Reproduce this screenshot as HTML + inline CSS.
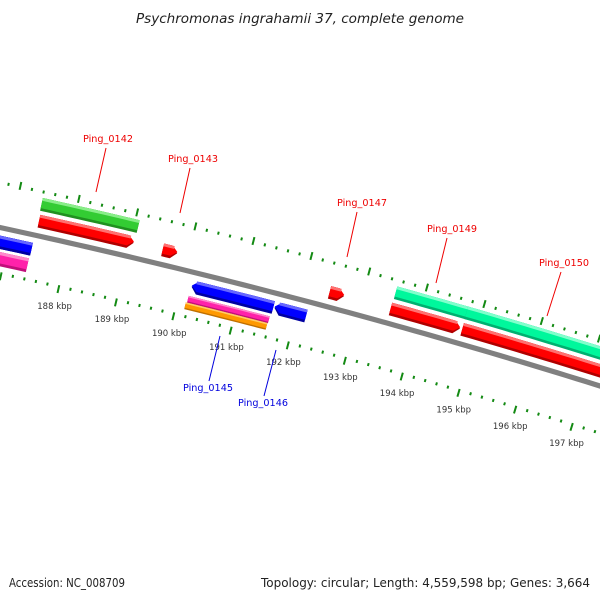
<!DOCTYPE html>
<html><head><meta charset="utf-8">
<style>
html,body{margin:0;padding:0;background:#fff;}
svg{display:block;font-family:"DejaVu Sans","Liberation Sans",sans-serif;}
</style></head>
<body>
<svg id="map" width="600" height="600" viewBox="0 0 600 600">
  <rect width="600" height="600" fill="#fff"/>
  <text x="300" y="23" text-anchor="middle" font-size="13" font-style="italic" fill="#222" textLength="328" lengthAdjust="spacingAndGlyphs">Psychromonas ingrahamii 37, complete genome</text>
  <g id="ticks"></g>
  <g id="backbone"></g>
  <g id="features"></g>
  <g id="labels"></g>
  <text x="9" y="587" font-size="12" fill="#222" textLength="116" lengthAdjust="spacingAndGlyphs">Accession: NC_008709</text>
  <text x="590" y="587" text-anchor="end" font-size="12" fill="#222" textLength="329" lengthAdjust="spacingAndGlyphs">Topology: circular; Length: 4,559,598 bp; Genes: 3,664</text>
</svg>
<script>
// ---- data (kbp) ----
const featStart = [185.0, 187.41, 187.43, 185.0, 185.0, 189.56, 190.18, 190.17, 190.15, 191.62, 192.45, 193.52, 193.51, 194.75, 194.76];
const featEnd   = [187.41,189.07, 189.06, 187.39, 187.40, 189.81, 191.60, 191.58, 191.57, 192.17, 192.70, 194.77, 194.72, 199.5, 199.5];
const featStrand= [-1, 1, 1, -1, -1, 1, -1, -1, -1, -1, 1, 1, 1, 1, 1];
const featSlot  = ['in1','out2','out1','in1','in2','out1','in1','in2a','in2b','in1','out1','out2','out1','out2','out1'];
const featType  = ['cds','gene','cds','cds','other','cds','cds','other','rna','cds','cds','gene2','cds','gene2','cds'];
const featArrow = [false,false,true,false,false,true,true,false,false,true,true,false,true,false,false];
const tickLabels = [188,189,190,191,192,193,194,195,196,197];
const tickMin = 185.0, tickMax = 199.4, tickStep = 0.2;

const geneLabels = ['Ping_0142','Ping_0143','Ping_0147','Ping_0149','Ping_0150','Ping_0145','Ping_0146'];
const geneLabelColor = ['#e00','#e00','#e00','#e00','#e00','#00d','#00d'];
const geneLabelPos = [[108,142],[193,162],[362,206],[452,232],[564,266],[208,391],[263,406]];
const geneLeader = [[96,192,106,148],[180,213,190,168],[347,257,357,212],[436,283,447,238],[547,316,561,272],[209,381,220,336],[264,396,276,350]];

// ---- geometry: circle through backbone points ----
const NS='http://www.w3.org/2000/svg';
const P1=[0,227.5],P2=[300,299.5],P3=[600,386];
function circ(a,b,c){const d=2*(a[0]*(b[1]-c[1])+b[0]*(c[1]-a[1])+c[0]*(a[1]-b[1]));
 const A=a[0]*a[0]+a[1]*a[1],B=b[0]*b[0]+b[1]*b[1],Cc=c[0]*c[0]+c[1]*c[1];
 const ux=(A*(b[1]-c[1])+B*(c[1]-a[1])+Cc*(a[1]-b[1]))/d, uy=(A*(c[0]-b[0])+B*(a[0]-c[0])+Cc*(b[0]-a[0]))/d;
 return [ux,uy,Math.hypot(a[0]-ux,a[1]-uy)];}
const [Cx,Cy,R0]=circ(P1,P2,P3);
const phi0=Math.atan2(P1[1]-Cy,P1[0]-Cx);
function sOf(x,y){return (Math.atan2(y-Cy,x-Cx)-phi0)*R0;}
function hOf(x,y){return Math.hypot(x-Cx,y-Cy)-R0;}
const s188=sOf(55,304), s197=sOf(566,445), pxK=(s197-s188)/9;
const labelH=(hOf(55,304)+hOf(566,445))/2;
function pt(k,h){const phi=phi0+(s188+(k-188)*pxK)/R0, r=R0+h; return [Cx+r*Math.cos(phi),Cy+r*Math.sin(phi)];}
function kOffset(px){return px/pxK;}
function el(tag,attrs,parent){const e=document.createElementNS(NS,tag);for(const a in attrs)e.setAttribute(a,attrs[a]);parent.appendChild(e);return e;}
function arcPts(k1,k2,h){const n=Math.max(2,Math.ceil(Math.abs(k2-k1)*6));const out=[];for(let i=0;i<=n;i++)out.push(pt(k1+(k2-k1)*i/n,h));return out;}
function polyStr(p){return p.map(q=>q[0].toFixed(2)+','+q[1].toFixed(2)).join(' ');}

const slotH={out1:[8,21],out2:[25,38],in1:[-21,-8],in2:[-38,-24],in2a:[-31,-24],in2b:[-38,-31]};
const colors={cds:['#ff0000','#ff7070','#b00000'],gene:['#33cc33','#88ee88','#209020'],gene2:['#00f79c','#80ffcc','#00b070'],
  other:['#ff22aa','#ff88cc','#c0107a'],rna:['#ff9900','#ffcc66','#c07000']};
// blue for reverse CDS
const revCds=['#0000ff','#6666ff','#0000a0'];

// ---- backbone ----
const bb=document.getElementById('backbone');
const bbo=arcPts(184,200,2.6), bbi=arcPts(184,200,-2.6);
let e=el('polygon',{points:polyStr(bbo.concat(bbi.reverse())),fill:'#808080'},bb);



// ---- ticks ----
const tg=document.getElementById('ticks');
const nT=Math.round((tickMax-tickMin)/tickStep);
for(let i=0;i<=nT;i++){
  const k=tickMin+i*tickStep; const major=Math.abs(k-Math.round(k))<1e-6;
  // outer ring
  let a=pt(k,major?41:42.5), b=pt(k,major?49:45.5);
  let t=el('line',{x1:a[0],y1:a[1],x2:b[0],y2:b[1],stroke:'#138a13','stroke-width':major?2:2},tg);
  
  
  a=pt(k,major?-43.5:-43.5); b=pt(k,major?-51.5:-46.5);
  t=el('line',{x1:a[0],y1:a[1],x2:b[0],y2:b[1],stroke:'#138a13','stroke-width':2},tg);
  
  
}
tickLabels.forEach(k=>{
  const p=pt(k,labelH);
  const t=el('text',{x:p[0],y:p[1]+3,'text-anchor':'middle','font-size':'8.5',fill:'#333'},tg);
  t.textContent=k+' kbp';
  
  
});

// ---- features ----
const fg=document.getElementById('features');
function featPoly(k1,k2,h1,h2,strand,arrow){
  const ah=kOffset(6);
  let top,bot;
  if(!arrow){top=arcPts(k1,k2,h2);bot=arcPts(k2,k1,h1);return top.concat(bot);}
  const mid=(h1+h2)/2;
  if(strand>0){top=arcPts(k1,k2-ah,h2);bot=arcPts(k2-ah,k1,h1);return top.concat([pt(k2,mid)],bot);}
  top=arcPts(k1+ah,k2,h2);bot=arcPts(k2,k1+ah,h1);return top.concat(bot,[pt(k1,mid)]);
}
for(let i=0;i<featStart.length;i++){
  const [h1,h2]=slotH[featSlot[i]];
  let c=colors[featType[i]];
  if(featType[i]==='cds'&&featStrand[i]<0)c=revCds;
  const g=el('g',{},fg);
  
  
  const th=h2-h1;
  el('polygon',{points:polyStr(featPoly(featStart[i],featEnd[i],h1,h2,featStrand[i],featArrow[i])),fill:c[2]},g);
  el('polygon',{points:polyStr(featPoly(featStart[i],featEnd[i],h1+th*0.2,h2,featStrand[i],featArrow[i])),fill:c[0]},g);
  el('polygon',{points:polyStr(featPoly(featStart[i],featEnd[i],h2-th*0.25,h2,featStrand[i],false).length?featPoly(featStart[i]+(featArrow[i]&&featStrand[i]<0?kOffset(4):0),featEnd[i]-(featArrow[i]&&featStrand[i]>0?kOffset(4):0),h2-th*0.22,h2,featStrand[i],false):[]),fill:c[1]},g);
}

// ---- gene labels ----
const lg=document.getElementById('labels');
geneLabels.forEach((name,i)=>{
  const L=geneLeader[i];
  let l=el('line',{x1:L[0],y1:L[1],x2:L[2],y2:L[3],stroke:geneLabelColor[i],'stroke-width':1},lg);
  
  
  const p=geneLabelPos[i];
  const t=el('text',{x:p[0],y:p[1],'text-anchor':'middle','font-size':'10',fill:geneLabelColor[i],textLength:'50',lengthAdjust:'spacingAndGlyphs'},lg);
  t.textContent=name;
  
  
});
</script>
</body></html>
